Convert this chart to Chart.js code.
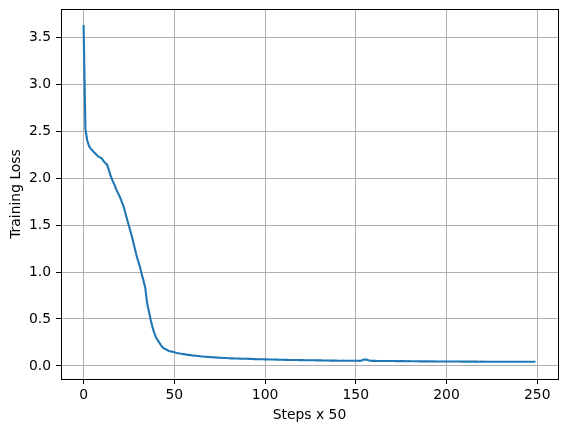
<!DOCTYPE html>
<html lang="en">
<head>
  <meta charset="UTF-8" />
  <title>Training Loss</title>
  <script src="https://cdn.jsdelivr.net/npm/chart.js"></script>
  <style>
    body {
      margin: 0;
      background: #fff;
    }
    canvas {
      display: block;
    }
  </style>
</head>
<body>
  <canvas id="lossChart" width="567" height="432"></canvas>

  <script>
    // loss per logged step (one point every 50 training steps)
    const loss = [
      3.63, 2.52, 2.40, 2.34, 2.31, 2.29, 2.27, 2.25, 2.23, 2.22,
      2.21, 2.18, 2.16, 2.14, 2.08, 2.02, 1.97, 1.93, 1.88, 1.84,
      1.80, 1.75, 1.70, 1.63, 1.56, 1.49, 1.42, 1.35, 1.27, 1.19,
      1.12, 1.06, 0.98, 0.91, 0.83, 0.67, 0.58, 0.49, 0.41, 0.35,
      0.30, 0.27, 0.24, 0.21, 0.19, 0.18, 0.17, 0.16, 0.155, 0.15,
      0.145, 0.140, 0.136, 0.132, 0.129, 0.126, 0.123, 0.120, 0.118, 0.115,
      0.112, 0.110, 0.108, 0.106, 0.104, 0.101, 0.100, 0.098, 0.097, 0.095,
      0.094, 0.092, 0.091, 0.090, 0.089, 0.087, 0.087, 0.085, 0.084, 0.084,
      0.082, 0.081, 0.081, 0.080, 0.079, 0.079, 0.078, 0.077, 0.077, 0.076,
      0.076, 0.075, 0.076, 0.074, 0.073, 0.074, 0.072, 0.072, 0.071, 0.071,
      0.070, 0.070, 0.069, 0.069, 0.068, 0.068, 0.067, 0.067, 0.066, 0.066,
      0.066, 0.065, 0.065, 0.064, 0.064, 0.064, 0.063, 0.063, 0.063, 0.062,
      0.062, 0.062, 0.061, 0.061, 0.061, 0.060, 0.060, 0.060, 0.059, 0.059,
      0.059, 0.059, 0.058, 0.058, 0.058, 0.058, 0.057, 0.057, 0.057, 0.057,
      0.056, 0.056, 0.056, 0.057, 0.056, 0.055, 0.055, 0.056, 0.055, 0.055,
      0.055, 0.055, 0.054, 0.055, 0.066, 0.069, 0.067, 0.061, 0.056, 0.054,
      0.054, 0.054, 0.053, 0.053, 0.053, 0.053, 0.052, 0.053, 0.052, 0.052,
      0.052, 0.052, 0.051, 0.052, 0.051, 0.051, 0.051, 0.051, 0.050, 0.051,
      0.050, 0.050, 0.050, 0.050, 0.050, 0.049, 0.050, 0.049, 0.049, 0.049,
      0.049, 0.049, 0.048, 0.049, 0.048, 0.048, 0.048, 0.048, 0.048, 0.047,
      0.048, 0.047, 0.047, 0.048, 0.047, 0.047, 0.047, 0.047, 0.046, 0.047,
      0.046, 0.046, 0.047, 0.046, 0.046, 0.046, 0.046, 0.046, 0.045, 0.046,
      0.045, 0.046, 0.045, 0.045, 0.045, 0.045, 0.045, 0.045, 0.045, 0.045,
      0.045, 0.045, 0.045, 0.045, 0.045, 0.044, 0.045, 0.045, 0.044, 0.045,
      0.044, 0.045, 0.044, 0.045, 0.044, 0.044, 0.045, 0.044, 0.044, 0.044
    ];
    const xTicks = [0, 50, 100, 150, 200, 250];
    const yTicks = [0.0, 0.5, 1.0, 1.5, 2.0, 2.5, 3.0, 3.5];

    const FONT = { family: 'DejaVu Sans', size: 13.9 };

    // black frame around the plot area, like the matplotlib spines
    const framePlugin = {
      id: 'frame',
      afterDraw(chart) {
        const { ctx, chartArea: a } = chart;
        ctx.save();
        ctx.strokeStyle = '#000';
        ctx.lineWidth = 1;
        ctx.strokeRect(Math.round(a.left) + 0.5, Math.round(a.top) + 0.5,
          Math.round(a.right - a.left), Math.round(a.bottom - a.top));
        ctx.restore();
      }
    };

    function renderChart() {
      const points = loss.map((v, i) => ({ x: i, y: v }));

      const ctx = document.getElementById('lossChart').getContext('2d');
      new Chart(ctx, {
        type: 'line',
        data: {
          datasets: [{
            data: points,
            borderColor: '#1f77b4',
            borderWidth: 2.1,
            pointRadius: 0,
            tension: 0,
            fill: false
          }]
        },
        options: {
          responsive: false,
          animation: false,
          layout: { padding: { left: 0, top: 9, right: 9, bottom: 0 } },
          plugins: {
            legend: { display: false },
            tooltip: { enabled: false }
          },
          scales: {
            x: {
              type: 'linear',
              min: -12.45,
              max: 261.45,
              afterBuildTicks: axis => { axis.ticks = xTicks.map(v => ({ value: v })); },
              afterFit: scale => {
                scale.height = 53;
                scale.paddingLeft = 0;
                scale.paddingRight = 0;
              },
              ticks: {
                color: '#000',
                font: FONT,
                padding: 3,
                maxRotation: 0,
                callback: v => String(v)
              },
              grid: { color: '#b0b0b0', lineWidth: 1, tickLength: 5, tickColor: '#000' },
              border: { display: false },
              title: {
                display: true,
                text: 'Steps x 50',
                color: '#000',
                font: FONT,
                padding: { top: 0, bottom: 8.5 }
              }
            },
            y: {
              min: -0.139,
              max: 3.80,
              afterBuildTicks: axis => { axis.ticks = yTicks.map(v => ({ value: v })); },
              afterFit: scale => {
                scale.width = 61;
                scale.paddingTop = 0;
                scale.paddingBottom = 0;
              },
              ticks: {
                color: '#000',
                font: FONT,
                padding: 5,
                callback: v => v.toFixed(1)
              },
              grid: { color: '#b0b0b0', lineWidth: 1, tickLength: 5, tickColor: '#000' },
              border: { display: false },
              title: {
                display: true,
                text: 'Training Loss',
                color: '#000',
                font: FONT,
                padding: { top: 8, bottom: 0 }
              }
            }
          }
        },
        plugins: [framePlugin]
      });
    }

    window.onload = renderChart;
  </script>
</body>
</html>
